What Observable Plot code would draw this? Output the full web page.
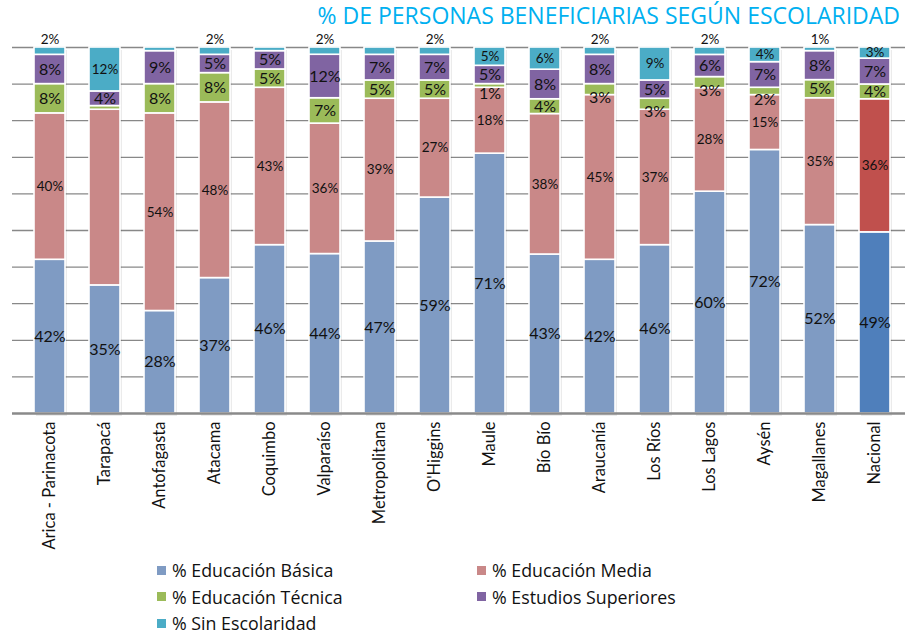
<!DOCTYPE html>
<html>
<head>
<meta charset="utf-8">
<script src="https://cdn.jsdelivr.net/npm/d3@7"></script>
<script src="https://cdn.jsdelivr.net/npm/@observablehq/plot@0.6"></script>
<style>
  body { margin: 0; background: #fff; font-family: Lato, "Open Sans", sans-serif; position: relative; }
  #title { position: absolute; top: -5px; right: 10px; height: 36px; line-height: 40px; color: #00B0F0; font-size: 23px; font-family: "Open Sans", Lato, sans-serif; white-space: nowrap; }
  #legend { display: grid; grid-template-columns: 320px 320px; padding-left: 157px; margin-top: -4px; font-size: 17.8px; font-family: "Open Sans", Lato, sans-serif; color: #111; }
  #legend div { height: 26.5px; line-height: 26.5px; display: flex; align-items: center; }
  #legend span.sw { display: inline-block; width: 9px; height: 9px; margin-right: 6px; }
</style>
</head>
<body>
<div id="chart"></div>
<div id="title">% DE PERSONAS BENEFICIARIAS SEGÚN ESCOLARIDAD</div>
<div id="legend"></div>
<script>
const regions = ["Arica - Parinacota","Tarapacá","Antofagasta","Atacama","Coquimbo","Valparaíso","Metropolitana","O'Higgins","Maule","Bío Bío","Araucanía","Los Ríos","Los Lagos","Aysén","Magallanes","Nacional"];
const categories = ["% Educación Básica","% Educación Media","% Educación Técnica","% Estudios Superiores","% Sin Escolaridad"];
const basica      = [42,35,28,37,46,44,47,59,71,43,42,46,60,72,52,49];
const media       = [40,48,54,48,43,36,39,27,18,38,45,37,28,15,35,36];
const tecnica     = [ 8, 1, 8, 8, 5, 7, 5, 5, 1, 4, 3, 3, 3, 2, 5, 4];
const superiores  = [ 8, 4, 9, 5, 5,12, 7, 7, 5, 8, 8, 5, 6, 7, 8, 7];
const sinEscol    = [ 2,12, 1, 2, 1, 2, 2, 2, 5, 6, 2, 9, 2, 4, 1, 3];
// labels not printed in the reference
const hiddenLabels = ["Tarapacá|% Educación Media","Tarapacá|% Educación Técnica","Antofagasta|% Sin Escolaridad","Coquimbo|% Sin Escolaridad","Metropolitana|% Sin Escolaridad"];
const gridTicks = [0.1,0.2,0.3,0.4,0.5,0.6,0.7,0.8,0.9,1];

const series = [basica, media, tecnica, superiores, sinEscol];
const lightColors = ["#7f9bc3","#c98888","#9bbb59","#8064a2","#4bacc6"];
const strongColors = ["#4f7fbb","#c0504d","#9bbb59","#8064a2","#4bacc6"];

// build stacked, normalized rows
const rows = [];
regions.forEach((r, i) => {
  const total = d3.sum(series, s => s[i]);
  let acc = 0;
  series.forEach((s, k) => {
    const v = s[i];
    const y1 = acc / total;
    acc += v;
    const y2 = acc / total;
    rows.push({region: r, cat: categories[k], k, value: v, y1, y2, mid: (y1 + y2) / 2});
  });
});

const fillOf = d => d.region === "Nacional" ? strongColors[d.k] : lightColors[d.k];
const labelRows = rows.filter(d => !hiddenLabels.includes(d.region + "|" + d.cat));
const smallTop = d => d.k === 4 && d.value <= 2;
const smallTec = d => d.k === 2 && d.value <= 3;
const labelSize = d => (d.k === 1 || d.k === 4) ? 13.5 : 16;

const chart = Plot.plot({
  width: 910,
  height: 561,
  marginTop: 47,
  marginBottom: 148,
  marginLeft: 12,
  marginRight: 5,
  x: {domain: regions, range: [2, 921], padding: 0.445, label: null},
  y: {domain: [0, 1], axis: null},
  style: {fontFamily: "Lato, 'Open Sans', sans-serif", background: "#fff"},
  marks: [
    Plot.ruleY(gridTicks, {stroke: "#888", strokeWidth: 1.3}),
    Plot.rectY(regions, {x: d => d, y1: 0, y2: 1, fill: "#000", fillOpacity: 0.08, dx: 2, dy: 3}),
    Plot.rectY(rows, {x: "region", y1: "y1", y2: "y2", fill: fillOf, stroke: "#fff", strokeWidth: 1.6}),
    Plot.ruleY([0], {stroke: "#8a8a8a", strokeWidth: 2.5}),
    Plot.text(labelRows.filter(d => !smallTop(d) && !smallTec(d)), {
      x: "region", y: "mid", text: d => d.value + "%", fill: "#111",
      fontSize: labelSize
    }),
    Plot.text(labelRows.filter(smallTec), {
      x: "region", y: "mid", text: d => d.value + "%", fill: "#111",
      fontSize: 16, dy: 8
    }),
    Plot.text(labelRows.filter(smallTop), {
      x: "region", y: "y2", text: d => d.value + "%", fill: "#111",
      fontSize: 13.5, dy: -8
    }),
    Plot.axisX({tickRotate: -90, tickSize: 0, tickPadding: 8, fontSize: 16.5, fill: "#111", label: null})
  ]
});
document.getElementById("chart").appendChild(chart);

const legend = document.getElementById("legend");
categories.forEach((c, k) => {
  const div = document.createElement("div");
  const sw = document.createElement("span");
  sw.className = "sw";
  sw.style.background = lightColors[k];
  div.appendChild(sw);
  div.appendChild(document.createTextNode(c));
  legend.appendChild(div);
});
</script>
</body>
</html>
